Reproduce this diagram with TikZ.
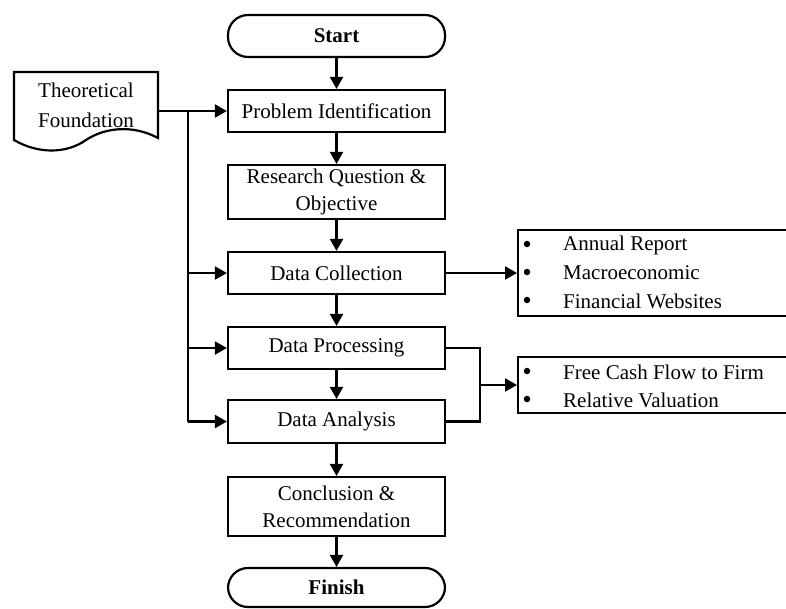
\documentclass[tikz,border=0pt]{standalone}
\usepackage{fontspec}
\setmainfont{Liberation Serif}
\usetikzlibrary{arrows.meta}
\begin{document}
\begin{tikzpicture}[x=1pt,y=-1pt,
  box/.style={draw, line width=2.2pt, minimum width=217pt, minimum height=42pt, align=center,
    font=\fontsize{21}{27}\selectfont, inner sep=0pt},
  term/.style={box, rounded corners=20pt, font=\fontsize{21}{27}\selectfont\bfseries},
  listbox/.style={draw, line width=2.2pt, minimum width=290pt, anchor=west, inner sep=0pt},
  litem/.style={anchor=west, font=\fontsize{21}{28}\selectfont, inner sep=0pt},
  bul/.style={circle, fill=black, inner sep=0pt, minimum size=6.5pt},
  conn/.style={line width=2.2pt},
  arr/.style={conn, -{Triangle[length=12pt,width=13pt]}}]
\useasboundingbox (0,0) rectangle (786,608);

% main flow
\node[term] (start) at (336.5,36) {Start};
\node[box] (pi) at (336.5,111) {Problem Identification};
\node[box, minimum height=54pt] (rq) at (336.5,192) {Research Question \&\\Objective};
\node[box] (dc) at (336.5,273) {Data Collection};
\node[box] (dp) at (336.5,348) {Data Processing};
\node[box, minimum height=43pt] (da) at (336.5,421.5) {Data Analysis};
\node[box, minimum height=59pt] (cr) at (336.5,506.5) {Conclusion \&\\Recommendation};
\node[term, minimum height=39pt] (fin) at (336.5,587.5) {Finish};

\draw[arr] (start) -- (pi);
\draw[arr] (pi) -- (rq);
\draw[arr] (rq) -- (dc);
\draw[arr] (dc) -- (dp);
\draw[arr] (dp) -- (da);
\draw[arr] (da) -- (cr);
\draw[arr] (cr) -- (fin);

% theoretical foundation (document shape)
\draw[line width=2.2pt, fill=white] (14,72) -- (158,72) -- (158,138)
  .. controls (132,124) and (104,128) .. (86,140)
  .. controls (66,154) and (38,154) .. (14,140) -- cycle;
\node[align=center, font=\fontsize{21}{30}\selectfont, inner sep=0pt, minimum width=144pt, minimum height=66pt]
  (tf) at (86,105) {Theoretical\\Foundation};

\coordinate (bus) at (188,112);
\draw[arr] (tf.east |- pi) -- (pi.west);
\draw[conn] (bus) -- (bus |- da);
\draw[arr] (bus |- dc) -- (dc.west);
\draw[arr] (bus |- dp) -- (dp.west);
\draw[arr] (bus |- da) -- (da.west);

% right lists
\node[listbox, minimum height=86pt] (l1) at (517,273) {};
\node[bul] (b11) at (527,244) {};
\node[bul] (b12) at (527,272) {};
\node[bul] (b13) at (527,300) {};
\node[litem] (t11) at (563,245) {Annual Report};
\node[litem] (t12) at (563,273) {Macroeconomic};
\node[litem] (t13) at (563,301) {Financial Websites};

\node[listbox, minimum height=56pt] (l2) at (517,385) {};
\node[bul] (b21) at (527,371) {};
\node[bul] (b22) at (527,399) {};
\node[litem] (t21) at (563,372) {Free Cash Flow to Firm};
\node[litem] (t22) at (563,400) {Relative Valuation};

\draw[arr] (dc.east) -- (l1.west);
\coordinate (mrg) at (480,385);
\draw[conn] (dp.east) -- (dp.east -| mrg) -- (da.east -| mrg) -- (da.east);
\draw[arr] (mrg) -- (l2.west);
\end{tikzpicture}
\end{document}
